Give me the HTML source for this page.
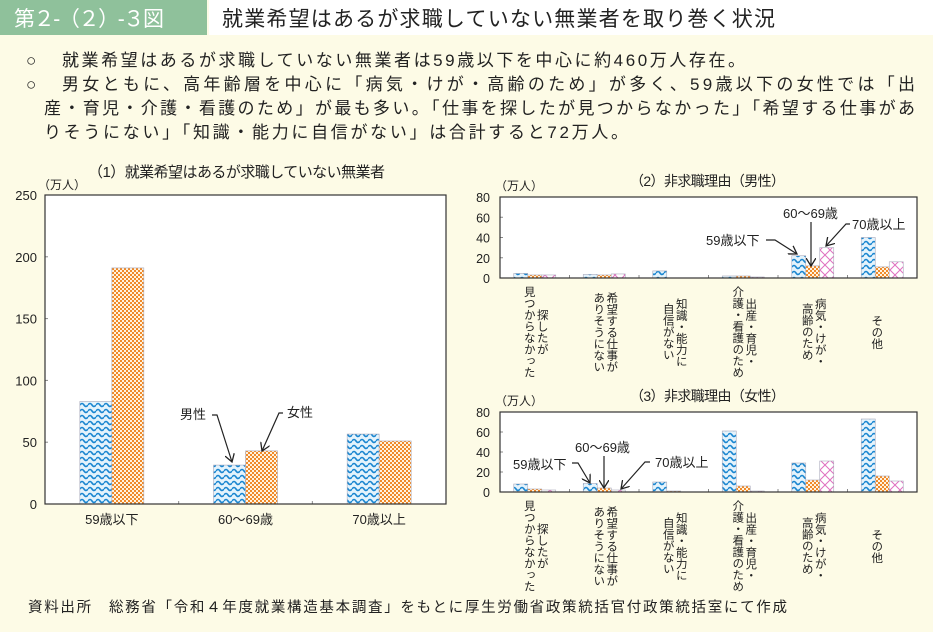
<!DOCTYPE html>
<html><head><meta charset="utf-8">
<style>
html,body{margin:0;padding:0;}
body{width:933px;height:632px;background:#fdfbe6;overflow:hidden;position:relative;font-family:"Liberation Sans","Noto Sans CJK JP",sans-serif;color:#222;}
svg text{font-family:"Liberation Sans","Noto Sans CJK JP",sans-serif;fill:#222;}
.vl{position:absolute;writing-mode:vertical-rl;text-align:center;font-size:11.5px;line-height:13px;color:#222;white-space:nowrap;}
</style></head><body>
<svg width="933" height="632" style="position:absolute;left:0;top:0">
<defs>
<pattern id="pw" width="8" height="6" patternUnits="userSpaceOnUse">
<rect width="8" height="6" fill="#e4f3fc"/>
<path d="M0 3 Q2 0 4 3 T8 3" fill="none" stroke="#1a86d0" stroke-width="1.6"/>
</pattern>
<pattern id="po" width="4" height="4" patternUnits="userSpaceOnUse">
<rect width="4" height="4" fill="#fff3e0"/>
<rect width="2" height="2" fill="#f08a2a"/><rect x="2" y="2" width="2" height="2" fill="#f08a2a"/>
</pattern>
<pattern id="pp" width="10" height="10" patternUnits="userSpaceOnUse">
<rect width="10" height="10" fill="#fff"/>
<path d="M0 0L10 10M10 0L0 10" stroke="#e070c0" stroke-width="1"/>
</pattern>
<marker id="ah" markerWidth="10" markerHeight="10" refX="8" refY="5" orient="auto" markerUnits="userSpaceOnUse">
<path d="M0 0L8 5L0 10" fill="none" stroke="#222" stroke-width="1.3"/>
</marker>
</defs>
<rect x="0" y="0" width="207" height="35" fill="#8fc19b"/>
<text x="14" y="26" font-size="21" textLength="150" lengthAdjust="spacing" style="fill:#fff">第２-（２）-３図</text>
<rect x="209" y="0" width="724" height="35" fill="#fff"/>
<text x="222" y="26" font-size="21" textLength="553" lengthAdjust="spacing">就業希望はあるが求職していない無業者を取り巻く状況</text>
<g font-size="17">
<text x="26" y="66">○</text>
<text x="62" y="66" textLength="683" lengthAdjust="spacing">就業希望はあるが求職していない無業者は59歳以下を中心に約460万人存在。</text>
<text x="26" y="90">○</text>
<text x="62" y="90" textLength="853" lengthAdjust="spacing">男女ともに、高年齢層を中心に「病気・けが・高齢のため」が多く、59歳以下の女性では「出</text>
<text x="44" y="114" textLength="871" lengthAdjust="spacing">産・育児・介護・看護のため」が最も多い。「仕事を探したが見つからなかった」「希望する仕事があ</text>
<text x="44" y="138" textLength="584" lengthAdjust="spacing">りそうにない」「知識・能力に自信がない」は合計すると72万人。</text>
</g>
<text x="28" y="612" font-size="14.5" textLength="759" lengthAdjust="spacing">資料出所　総務省「令和４年度就業構造基本調査」をもとに厚生労働省政策統括官付政策統括室にて作成</text>
<g id="c1"></g><g id="c2"></g><g id="c3"></g>
</svg>
<div id="labels"></div>
<script>
const c1Cats=["59歳以下","60～69歳","70歳以上"];
const c1Male=[83,31.5,56.6];
const c1Female=[191,43,51];
const c1Ticks=[0,50,100,150,200,250];
const rCats=["探したが\n見つからなかった","希望する仕事が\nありそうにない","知識・能力に\n自信がない","出産・育児・\n介護・看護のため","病気・けが・\n高齢のため","その他"];
const mU59=[4.5,3.5,7,2,22,40];
const mU69=[3,3,0,2,12,11];
const m70=[3,4,0,1,30,16];
const fU59=[8,8.5,10,61,29,73];
const fU69=[3,4,1,6,12,16];
const f70=[2,2,0,1,31,11];
const rTicks=[0,20,40,60,80];
const NS="http://www.w3.org/2000/svg";
function mk(p,tag,a){const e=document.createElementNS(NS,tag);for(const k in a)e.setAttribute(k,a[k]);p.appendChild(e);return e;}
function chart(g,o){
  const L=o.x0,R=o.x1,T=o.y0,B=o.y1,max=o.ticks[o.ticks.length-1];
  const y=v=>B-(v/max)*(B-T);
  const bg=mk(g,'rect',{x:L,y:T,width:R-L,height:B-T,fill:'#fff'});
  
  
  o.ticks.forEach(t=>{
    const tx=mk(g,'text',{x:L-o.tickGap,y:y(t)+5,'font-size':o.fs,'text-anchor':'end'});
    tx.textContent=t;
    
    
    mk(g,'line',{x1:L,x2:L+3,y1:y(t),y2:y(t),stroke:'#888'});
  });
  const n=o.cats.length,gw=(R-L)/n,ns=o.series.length,tot=o.bw*ns;
  o.series.forEach((s,si)=>{
    s.forEach((v,ci)=>{
      const bx=L+gw*ci+gw/2-tot/2+si*o.bw;
      const r=mk(g,'rect',{x:bx,y:y(v),width:o.bw,height:B-y(v),fill:'url(#'+o.pats[si]+')',stroke:'#aab',"stroke-width":0.6});
      
      
    });
  });
  for(let i=1;i<n;i++)mk(g,'line',{x1:L+gw*i,x2:L+gw*i,y1:B,y2:B-3,stroke:'#888'});
  mk(g,'rect',{x:L,y:T,width:R-L,height:B-T,fill:'none',stroke:'#333','stroke-width':1.2});
  return {gw};
}
const c1=document.getElementById('c1');
const r1=chart(c1,{x0:45,x1:446,y0:195,y1:504,ticks:c1Ticks,fs:13,tickGap:8,cats:c1Cats,series:[c1Male,c1Female],bw:32,pats:['pw','po'],sn:['male','female']});
c1Cats.forEach((c,i)=>{const t=mk(c1,'text',{x:45+r1.gw*(i+0.5),y:524,'font-size':13,'text-anchor':'middle'});t.textContent=c;

});
function txt(g,x,y,s,fs,anchor,name,len){const a={x:x,y:y,'font-size':fs,'text-anchor':anchor||'start'};if(len){a.textLength=len;a.lengthAdjust='spacing';}const t=mk(g,'text',a);t.textContent=s;

return t;}
txt(c1,88,177,'（1）就業希望はあるが求職していない無業者',15,'start','chart1-title',297);
txt(c1,38,189,'（万人）',12,'start','chart1-unit');
txt(c1,180,419,'男性',13,'start','label-male');
txt(c1,287,417,'女性',13,'start','label-female');
mk(c1,'polyline',{points:'212,415 217,415 232,462',fill:'none',stroke:'#222','stroke-width':1.2,'marker-end':'url(#ah)'});
mk(c1,'polyline',{points:'283,413 279,413 262,451',fill:'none',stroke:'#222','stroke-width':1.2,'marker-end':'url(#ah)'});

const lab=document.getElementById('labels');
function vlabels(x0,x1,top,pre){const gw=(x1-x0)/6;rCats.forEach((c,i)=>{const d=document.createElement('div');d.className='vl';


d.style.left=(x0+gw*(i+0.5)-13)+'px';d.style.top=top+'px';d.style.height='96px';d.innerHTML=c.replace('\n','<br>');lab.appendChild(d);});}

const c2=document.getElementById('c2');
chart(c2,{x0:500,x1:917,y0:197,y1:278,ticks:rTicks,fs:12.5,tickGap:10,cats:rCats,series:[mU59,mU69,m70],bw:14,pats:['pw','po','pp'],sn:['male-u59','male-60s','male-70plus']});
txt(c2,630,186,'（2）非求職理由（男性）',14,'start','chart2-title',155);
txt(c2,495,190,'（万人）',12,'start','chart2-unit');
txt(c2,783,218,'60～69歳',13,'start','ann-60s');
txt(c2,852,229,'70歳以上',13,'start','ann-70plus');
txt(c2,706,245,'59歳以下',13,'start','ann-u59');
mk(c2,'polyline',{points:'766,240 775,240 797,254',fill:'none',stroke:'#222','stroke-width':1.2,'marker-end':'url(#ah)'});
mk(c2,'polyline',{points:'811,222 811,266',fill:'none',stroke:'#222','stroke-width':1.2,'marker-end':'url(#ah)'});
mk(c2,'polyline',{points:'850,224 846,224 826,246',fill:'none',stroke:'#222','stroke-width':1.2,'marker-end':'url(#ah)'});
vlabels(500,917,284,'chart2');

const c3=document.getElementById('c3');
chart(c3,{x0:500,x1:917,y0:412,y1:492,ticks:rTicks,fs:12.5,tickGap:10,cats:rCats,series:[fU59,fU69,f70],bw:14,pats:['pw','po','pp'],sn:['female-u59','female-60s','female-70plus']});
txt(c3,630,401,'（3）非求職理由（女性）',14,'start','chart3-title',155);
txt(c3,495,405,'（万人）',12,'start','chart3-unit');
txt(c3,575,452,'60～69歳',13,'start','ann-60s-f');
txt(c3,513,469,'59歳以下',13,'start','ann-u59-f');
txt(c3,655,467,'70歳以上',13,'start','ann-70plus-f');
mk(c3,'polyline',{points:'572,463 578,463 590,483',fill:'none',stroke:'#222','stroke-width':1.2,'marker-end':'url(#ah)'});
mk(c3,'polyline',{points:'604,456 604,488',fill:'none',stroke:'#222','stroke-width':1.2,'marker-end':'url(#ah)'});
mk(c3,'polyline',{points:'650,462 645,462 621,489',fill:'none',stroke:'#222','stroke-width':1.2,'marker-end':'url(#ah)'});
vlabels(500,917,498,'chart3');
</script>
</body></html>
